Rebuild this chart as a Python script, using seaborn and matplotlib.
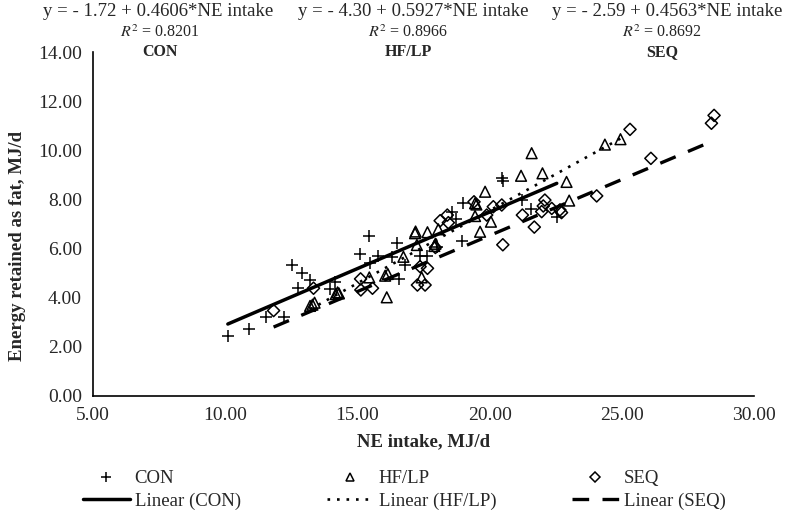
import numpy as np
import pandas as pd
import matplotlib
matplotlib.use("Agg")
import matplotlib.pyplot as plt
import seaborn as sns
from matplotlib.lines import Line2D
from matplotlib.ticker import FormatStrFormatter

# NE intake (MJ/d) and energy retained as fat (MJ/d)
con_x = [10.10, 10.90, 11.55, 12.23, 12.54, 12.77, 12.92, 13.19, 13.97, 14.16,
         15.10, 15.42, 15.48, 15.79, 16.30, 16.49, 16.59, 16.80, 17.37, 17.65,
         18.00, 18.57, 18.73, 18.95, 19.00, 20.46, 20.50, 21.21, 21.56, 22.54]
con_y = [2.43, 2.72, 3.21, 3.21, 5.34, 4.39, 5.00, 4.72, 4.35, 4.66,
         5.77, 6.52, 5.40, 5.70, 5.65, 6.25, 4.75, 5.34, 5.70, 5.70,
         6.05, 7.51, 7.20, 6.31, 7.85, 8.87, 8.75, 8.00, 7.62, 7.30]

hf_x = [13.21, 13.30, 13.38, 14.18, 14.25, 14.30, 15.45, 16.05, 16.15, 16.11,
        16.74, 17.18, 17.20, 17.25, 17.43, 17.65, 17.91, 17.95, 18.06, 19.45,
        19.45, 19.50, 19.64, 19.83, 20.05, 21.19, 21.59, 22.00, 22.91, 23.01,
        24.36, 24.95]
hf_y = [3.67, 3.72, 3.80, 4.15, 4.22, 4.18, 4.83, 4.90, 4.97, 4.02,
        5.67, 6.63, 6.70, 6.15, 4.83, 6.67, 6.11, 6.20, 6.79, 7.85,
        7.33, 7.80, 6.69, 8.32, 7.10, 8.97, 9.89, 9.07, 8.72, 7.96,
        10.24, 10.46]

seq_x = [11.83, 13.34, 15.12, 15.13, 15.57, 17.27, 17.37, 17.56, 17.65, 17.95,
         18.13, 18.40, 18.44, 19.41, 19.89, 20.14, 20.46, 20.50, 21.24, 21.69,
         21.97, 22.03, 22.09, 22.35, 22.66, 22.72, 24.05, 25.31, 26.10, 28.39,
         28.49]
seq_y = [3.48, 4.39, 4.77, 4.32, 4.39, 4.52, 5.27, 4.52, 5.20, 6.05,
         7.14, 7.37, 7.06, 7.91, 7.37, 7.71, 7.78, 6.16, 7.37, 6.88,
         7.51, 7.74, 7.98, 7.64, 7.58, 7.47, 8.15, 10.86, 9.68, 11.11,
         11.43]

groups = ["CON", "HF/LP", "SEQ"]
intercepts = [-1.72, -4.30, -2.59]
slopes = [0.4606, 0.5927, 0.4563]
r2 = [0.8201, 0.8966, 0.8692]

df = pd.DataFrame({
    "ne": con_x + hf_x + seq_x,
    "fat": con_y + hf_y + seq_y,
    "group": ["CON"] * len(con_x) + ["HF/LP"] * len(hf_x) + ["SEQ"] * len(seq_x),
})

sns.set_style("white")
plt.rcParams["font.family"] = ["Liberation Serif", "DejaVu Serif"]
plt.rcParams["mathtext.fontset"] = "stix"

W, H = 788, 529
fig = plt.figure(figsize=(W / 100, H / 100), dpi=100)
ax = fig.add_axes([93 / W, 1 - 396 / H, (754 - 93) / W, (396 - 52.3) / H])

markers = {"CON": "+", "HF/LP": "^", "SEQ": "D"}
sizes = {"CON": 70, "HF/LP": 60, "SEQ": 38}
styles = {"CON": "-", "HF/LP": (0, (1, 2.6)), "SEQ": (0, (5, 4))}
widths = {"CON": 2.5, "HF/LP": 1.9, "SEQ": 2.4}

for g in groups:
    sub = df[df["group"] == g]
    if markers[g] == "+":
        sns.scatterplot(data=sub, x="ne", y="fat", marker="+", s=sizes[g],
                        color="black", linewidth=1.1, ax=ax, zorder=3)
    else:
        sns.scatterplot(data=sub, x="ne", y="fat", marker=markers[g], s=sizes[g],
                        facecolor="none", edgecolor="black", linewidth=1.1,
                        ax=ax, zorder=3)

for g, b0, b1 in zip(groups, intercepts, slopes):
    sub = df[df["group"] == g]
    xs = np.array([sub["ne"].min(), sub["ne"].max()])
    sns.lineplot(x=xs, y=b0 + b1 * xs, color="black", linestyle=styles[g],
                 linewidth=widths[g], ax=ax, zorder=4)

ax.set_xlim(5, 30)
ax.set_ylim(0, 14)
ax.set_xticks(np.arange(5, 31, 5))
ax.set_yticks(np.arange(0, 15, 2))
ax.xaxis.set_major_formatter(FormatStrFormatter("%.2f"))
ax.yaxis.set_major_formatter(FormatStrFormatter("%.2f"))
ax.tick_params(axis="both", direction="out", length=5, width=1.2,
               labelsize=14, color="black", pad=3)
for side in ["top", "right"]:
    ax.spines[side].set_visible(False)
for side in ["left", "bottom"]:
    ax.spines[side].set_color("black")
    ax.spines[side].set_linewidth(1.2)
ax.set_xlabel("NE intake, MJ/d", fontsize=13.5, fontweight="bold")
ax.set_ylabel("Energy retained as fat, MJ/d", fontsize=13.5, fontweight="bold")
ax.xaxis.set_label_coords(0.5, -0.107)
ax.yaxis.set_label_coords(-0.102, 0.436)

# regression equations above the plot
eq_x = [158, 413, 667]
lab_x = [160, 408, 662]
for g, b0, b1, r, ex, lx in zip(groups, intercepts, slopes, r2, eq_x, lab_x):
    fig.text(ex / W, 1 - 12 / H, f"y = - {abs(b0):.2f} + {b1:.4f}*NE intake",
             ha="center", va="center", fontsize=13.5)
    fig.text(lx / W, 1 - 33 / H, rf"$R^2$ = {r:.4f}", ha="center", va="center",
             fontsize=11.5)
    fig.text(lx / W, 1 - 52 / H, g, ha="center", va="center", fontsize=11.5,
             fontweight="bold")

# legend: one two-row block per group
leg_left = [83, 327, 572]
for g, lx in zip(groups, leg_left):
    mk = Line2D([], [], linestyle="none", marker=markers[g], color="black",
                markerfacecolor="none", markersize=7 if g == "CON" else 5.5,
                markeredgewidth=1.1)
    ln = Line2D([], [], color="black", linestyle=styles[g], linewidth=widths[g])
    leg = fig.legend([mk, ln], [g, f"Linear ({g})"], loc="upper left",
                     bbox_to_anchor=(lx / W, 1 - 470 / H), frameon=False,
                     fontsize=13.5, handlelength=2.5, handletextpad=0.25,
                     borderpad=0, borderaxespad=0, labelspacing=0.3)

fig.savefig("out.png", dpi=100, facecolor="white")
